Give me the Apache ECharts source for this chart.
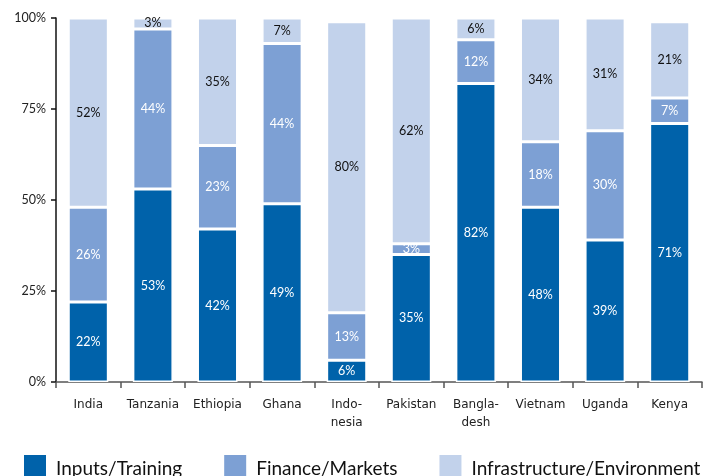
<!DOCTYPE html>
<html>
<head>
<meta charset="utf-8">
<script src="https://cdn.jsdelivr.net/npm/echarts@6/dist/echarts.min.js"></script>
<style>
  html, body { margin: 0; padding: 0; background: #fff; }
  #chart { width: 725px; height: 476px; }
</style>
</head>
<body>
<div id="chart"></div>
<script>
// Share of spending by category, per country (percent)
const countries = ['India', 'Tanzania', 'Ethiopia', 'Ghana', 'Indo-\nnesia', 'Pakistan', 'Bangla-\ndesh', 'Vietnam', 'Uganda', 'Kenya'];
const inputsTraining = [22, 53, 42, 49, 6, 35, 82, 48, 39, 71];
const financeMarkets = [26, 44, 23, 44, 13, 3, 12, 18, 30, 7];
const infraEnvironment = [52, 3, 35, 7, 80, 62, 6, 34, 31, 21];
const yTicks = [0, 25, 50, 75, 100];

const FONT = 'Lato, "Open Sans", sans-serif';

function seg(name, data, color, labelColor) {
  return {
    name: name,
    type: 'bar',
    stack: 'total',
    data: data,
    barCategoryGap: '38%',
    itemStyle: { color: color, borderColor: '#ffffff', borderWidth: 1.5 },
    label: {
      show: true,
      position: 'inside',
      formatter: '{c}%',
      color: labelColor,
      fontFamily: FONT,
      fontSize: 12.5
    },
    emphasis: { disabled: true }
  };
}

const chart = echarts.init(document.getElementById('chart'), null, { renderer: 'canvas' });
chart.setOption({
  animation: false,
  grid: { left: 56, right: 23, top: 18, bottom: 94, containLabel: false },
  legend: {
    left: 17,
    top: 448,
    itemWidth: 24,
    itemHeight: 30,
    itemGap: 40,
    icon: 'rect',
    textStyle: { fontFamily: FONT, fontSize: 19, color: '#111', padding: [0, 0, 0, 4] },
    selectedMode: false
  },
  xAxis: {
    type: 'category',
    data: countries,
    axisLine: { lineStyle: { color: '#555', width: 1.5 } },
    axisTick: { show: true, length: 6, lineStyle: { color: '#555', width: 1.5 } },
    axisLabel: {
      interval: 0,
      margin: 14,
      color: '#222',
      fontFamily: '"DejaVu Sans", sans-serif',
      fontSize: 12,
      lineHeight: 18
    }
  },
  yAxis: {
    type: 'value',
    min: yTicks[0],
    max: yTicks[yTicks.length - 1],
    interval: 25,
    splitLine: { show: false },
    axisLine: { show: true, lineStyle: { color: '#111', width: 1.5 } },
    axisTick: { show: true, length: 5, lineStyle: { color: '#111', width: 1.5 } },
    axisLabel: {
      formatter: '{value}%',
      color: '#222',
      fontFamily: FONT,
      fontSize: 12.5,
      margin: 10
    }
  },
  series: [
    seg('Inputs/Training', inputsTraining, '#0062AA', '#ffffff'),
    seg('Finance/Markets', financeMarkets, '#7DA0D4', '#ffffff'),
    seg('Infrastructure/Environment', infraEnvironment, '#C2D2EB', '#111111')
  ]
});
</script>
</body>
</html>
